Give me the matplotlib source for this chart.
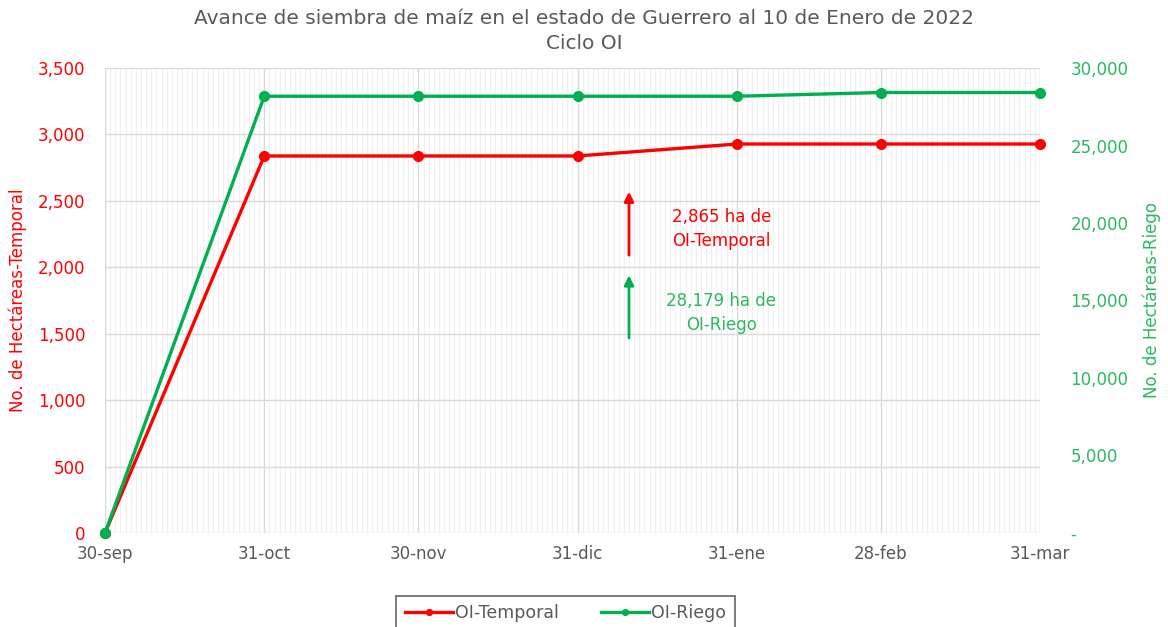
import matplotlib
matplotlib.use("Agg")
import matplotlib.pyplot as plt
import matplotlib.dates as mdates
from matplotlib.ticker import FuncFormatter, MultipleLocator
import datetime as dt

plt.rcParams['font.family'] = ['DejaVu Sans']

fechas = [dt.date(2021, 9, 30), dt.date(2021, 10, 31), dt.date(2021, 11, 30),
          dt.date(2021, 12, 31), dt.date(2022, 1, 31), dt.date(2022, 2, 28),
          dt.date(2022, 3, 31)]
etiquetas = ['30-sep', '31-oct', '30-nov', '31-dic', '31-ene', '28-feb', '31-mar']
temporal = [0, 2838, 2838, 2838, 2928, 2928, 2928]
riego = [0, 28179, 28179, 28179, 28179, 28420, 28420]

RED = '#FF0000'
GREEN = '#00B050'
GREEN_TXT = '#2BB861'
GREY = '#595959'

fig = plt.figure(figsize=(11.68, 6.27), dpi=100)
ax = fig.add_axes([0.0899, 0.150, 0.8005, 0.7415])
ax2 = ax.twinx()

l1, = ax.plot(fechas, temporal, color=RED, lw=2.4, marker='o', ms=7, label='OI-Temporal',
              zorder=3, clip_on=False)
l2, = ax2.plot(fechas, riego, color=GREEN, lw=2.4, marker='o', ms=7, label='OI-Riego',
               zorder=3, clip_on=False)

ax.set_xlim(fechas[0], fechas[-1])
ax.set_ylim(0, 3500)
ax2.set_ylim(0, 30000)
ax.yaxis.set_major_locator(MultipleLocator(500))
ax2.yaxis.set_major_locator(MultipleLocator(5000))
ax.yaxis.set_major_formatter(FuncFormatter(lambda v, p: f'{int(v):,}'))
ax2.yaxis.set_major_formatter(FuncFormatter(lambda v, p: '-' if v == 0 else f'{int(v):,}'))

ax.set_xticks(fechas)
ax.set_xticklabels(etiquetas)
ax.xaxis.set_minor_locator(mdates.DayLocator())

ax.grid(True, which='major', color='#D9D9D9', lw=1.0)
ax.grid(True, which='minor', axis='x', color='#F0F0F0', lw=0.8)
ax.set_axisbelow(True)

for a in (ax, ax2):
    for s in a.spines.values():
        s.set_visible(False)
    a.tick_params(length=0)
ax.tick_params(axis='x', which='both', length=0, colors=GREY, labelsize=12, pad=9)
ax.tick_params(axis='y', colors=RED, labelsize=12, pad=14)
ax2.tick_params(axis='y', colors=GREEN_TXT, labelsize=12, pad=22)
ax.tick_params(axis='x', labelcolor=GREY)

ax.set_ylabel('No. de Hectáreas-Temporal', color=RED, fontsize=12, labelpad=8)
ax2.set_ylabel('No. de Hectáreas-Riego', color=GREEN_TXT, fontsize=12, labelpad=10)

fig.suptitle('Avance de siembra de maíz en el estado de Guerrero al 10 de Enero de 2022\nCiclo OI',
             color=GREY, fontsize=14.5, y=0.985, linespacing=1.35)

flecha_x = dt.date(2022, 1, 10)
texto_x = dt.date(2022, 1, 28)
ax.annotate('', xy=(flecha_x, 2590), xytext=(flecha_x, 2070),
            arrowprops=dict(arrowstyle='-|>', color=RED, lw=2, mutation_scale=14))
ax2.annotate('', xy=(flecha_x, 16800), xytext=(flecha_x, 12400),
             arrowprops=dict(arrowstyle='-|>', color=GREEN, lw=2, mutation_scale=14))
ax.text(texto_x, 2290, '2,865 ha de\nOI-Temporal', color=RED, fontsize=12,
        ha='center', va='center', linespacing=1.4)
ax2.text(texto_x, 14200, '28,179 ha de\nOI-Riego', color=GREEN_TXT, fontsize=12,
         ha='center', va='center', linespacing=1.4)

leg = fig.legend(handles=[l1, l2], loc='upper center', bbox_to_anchor=(0.484, 0.050),
                 ncol=2, frameon=True, fancybox=False, edgecolor='#404040',
                 fontsize=12.5, handlelength=2.8, handletextpad=0.1, columnspacing=2.4,
                 borderpad=0.5, borderaxespad=0, markerscale=0.6)
for t in leg.get_texts():
    t.set_color(GREY)
leg.get_frame().set_linewidth(1.2)

fig.savefig('out.png', dpi=100)
